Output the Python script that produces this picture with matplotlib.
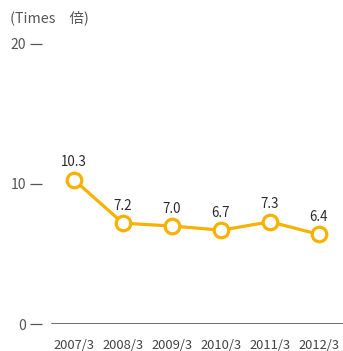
import matplotlib.pyplot as plt

plt.rcParams['font.family'] = ['Noto Sans CJK JP', 'DejaVu Sans']

years = ['2007/3', '2008/3', '2009/3', '2010/3', '2011/3', '2012/3']
ratio = [10.3, 7.2, 7.0, 6.7, 7.3, 6.4]
yticks = [0, 10, 20]

W, H = 343, 351
fig = plt.figure(figsize=(W / 100, H / 100), dpi=100)
ax = fig.add_axes([42 / W, 27 / H, (W - 42) / W, 294 / H])

x = range(len(years))
ax.plot(x, ratio, color='#F8B100', lw=2.3, marker='o', ms=10.5,
        mfc='white', mec='#F8B100', mew=2.3, zorder=3, clip_on=False)
for xi, v in zip(x, ratio):
    ax.annotate(f'{v:.1f}', (xi, v), xytext=(0, 7.5), textcoords='offset points',
                ha='center', va='bottom', fontsize=9.6, color='#2a2a2a')

ax.set_xlim(-0.653, 5.49)
ax.set_ylim(0, 21)
for s in ax.spines.values():
    s.set_visible(False)
ax.axhline(0, xmin=10 / (W - 42), xmax=1, color='#444444', lw=1.1)

ax.set_yticks(yticks)
ax.tick_params(axis='y', length=8.6, width=0.9, color='#555555', pad=3,
               labelsize=10, labelcolor='#555555')
ax.set_xticks(list(x))
ax.set_xticklabels(years)
ax.tick_params(axis='x', length=0, pad=10.5, labelsize=9.3, labelcolor='#444444')

fig.text(10 / W, 1 - 18 / H, '(Times\u3000倍)', fontsize=10.3, color='#555555',
         ha='left', va='center')

fig.savefig('out.png', dpi=100)
